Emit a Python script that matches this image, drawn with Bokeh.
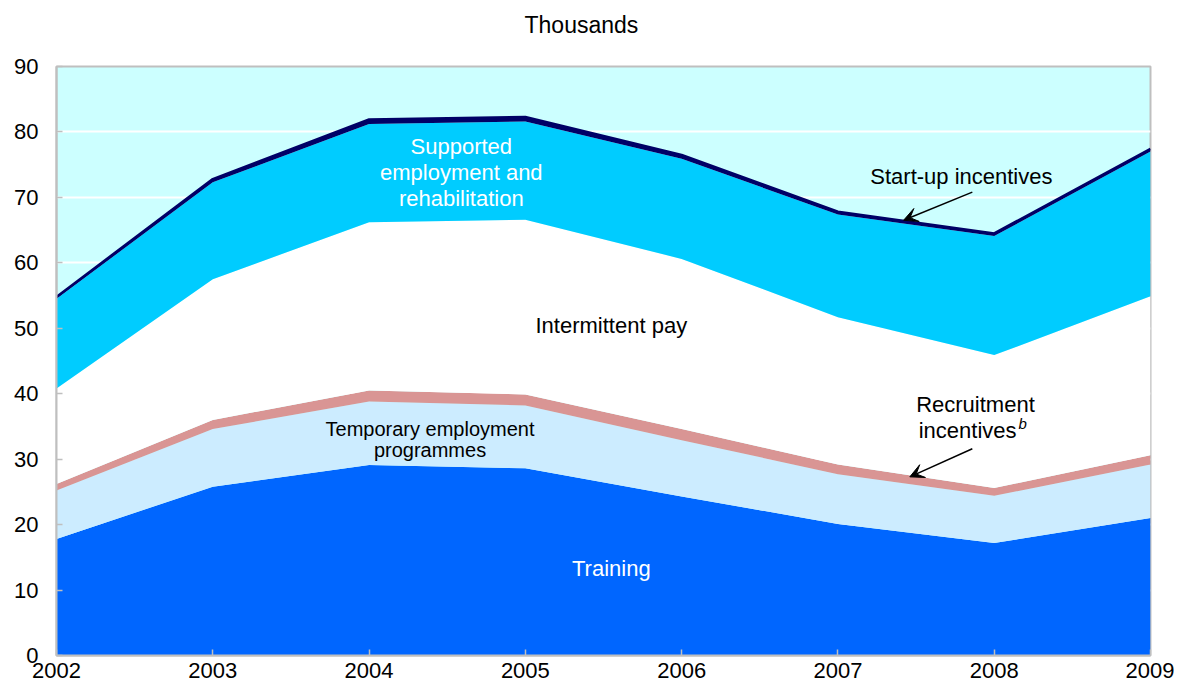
from bokeh.plotting import figure
from bokeh.models import ColumnDataSource, Range1d, FixedTicker, Arrow, VeeHead, Title
from bokeh.core.properties import value
from bokeh.embed import file_html
from bokeh.resources import INLINE

years = [2002, 2003, 2004, 2005, 2006, 2007, 2008, 2009]
training = [17.8, 25.8, 29.1, 28.6, 24.3, 20.1, 17.2, 21.0]
temporary = [7.4, 8.8, 9.7, 9.6, 8.6, 7.6, 7.2, 8.2]
recruitment = [1.0, 1.4, 1.7, 1.7, 1.7, 1.5, 1.2, 1.4]
intermittent = [14.6, 21.5, 25.7, 26.7, 26.0, 22.5, 20.3, 24.3]
supported = [13.7, 14.8, 15.0, 15.0, 15.3, 15.7, 18.2, 22.1]
startup = [0.3, 0.5, 0.7, 0.7, 0.6, 0.4, 0.4, 0.4]
y_ticks = [0, 10, 20, 30, 40, 50, 60, 70, 80, 90]

series = ["training", "temporary", "recruitment", "intermittent", "supported", "startup"]
colors = ["#0066FF", "#CCECFF", "#D99594", "#FFFFFF", "#00CCFF", "#000066"]

src = ColumnDataSource(dict(x=years, training=training, temporary=temporary,
                            recruitment=recruitment, intermittent=intermittent,
                            supported=supported, startup=startup))

FONT = "Liberation Sans"

p = figure(width=1174, height=682, output_backend="svg", toolbar_location=None,
           x_range=Range1d(2002, 2009), y_range=Range1d(0, 90),
           min_border_left=56, min_border_right=24, min_border_top=66, min_border_bottom=27,
           background_fill_color="#CCFFFF", border_fill_color="white")

p.varea_stack(series, x="x", color=colors, source=src)

# ridge line on top of the start-up band
total = [a + b + c + d + e + f for a, b, c, d, e, f in
         zip(training, temporary, recruitment, intermittent, supported, startup)]
p.line(years, total, line_color="#000066", line_width=2.5)

# Axes
p.xaxis.ticker = FixedTicker(ticks=years)
p.yaxis.ticker = FixedTicker(ticks=y_ticks)
for ax in (p.xaxis[0], p.yaxis[0]):
    ax.axis_line_color = "#BFBFBF"
    ax.axis_line_width = 2
    ax.major_tick_line_color = "#BFBFBF"
    ax.major_tick_line_width = 1.5
    ax.major_tick_in = 6
    ax.major_tick_out = 0
    ax.minor_tick_line_color = None
    ax.major_label_text_font = FONT
    ax.major_label_text_font_size = "22px"
    ax.major_label_text_color = "black"
p.xaxis.major_label_standoff = 7
p.yaxis.major_label_standoff = 18

p.xgrid.grid_line_color = None
p.ygrid.grid_line_color = "white"
p.ygrid.grid_line_width = 2
p.ygrid.level = "image"
p.outline_line_color = "#BFBFBF"
p.outline_line_width = 2

# second (blank) line keeps the unit label high above the plot area
title = Title(text="Thousands\n ", align="left", offset=468, text_font=FONT,
              text_font_size="23px", text_font_style="normal", text_color="black",
              standoff=2, vertical_align="top")
p.add_layout(title, "above")

def txt(x, y, s, color="black", size="22px", align="center", baseline="middle", style="normal"):
    p.text(x=[x], y=[y], text=[s], text_color=color, text_font=value(FONT),
           text_font_size=size, text_align=align, text_baseline=baseline,
           text_font_style=style)

# Area labels
txt(2004.59, 77.7, "Supported", color="white")
txt(2004.59, 73.8, "employment and", color="white")
txt(2004.59, 69.9, "rehabilitation", color="white")
txt(2005.55, 50.4, "Intermittent pay")
txt(2004.39, 34.65, "Temporary employment", size="20px")
txt(2004.39, 31.35, "programmes", size="20px")
txt(2005.55, 13.3, "Training", color="white")
txt(2007.79, 73.2, "Start-up incentives")
txt(2007.88, 38.4, "Recruitment")
txt(2007.83, 34.35, "incentives")
txt(2008.155, 35.4, "b", size="15px", align="left", baseline="middle", style="italic")

# Arrows
p.add_layout(Arrow(x_start=2007.86, y_start=70.8, x_end=2007.42, y_end=66.5,
                   line_color="black", line_width=1.5,
                   end=VeeHead(size=14, fill_color="black", line_color="black")))
p.add_layout(Arrow(x_start=2007.86, y_start=31.6, x_end=2007.46, y_end=27.3,
                   line_color="black", line_width=1.5,
                   end=VeeHead(size=14, fill_color="black", line_color="black")))

open("out.html", "w").write(file_html(p, INLINE))
